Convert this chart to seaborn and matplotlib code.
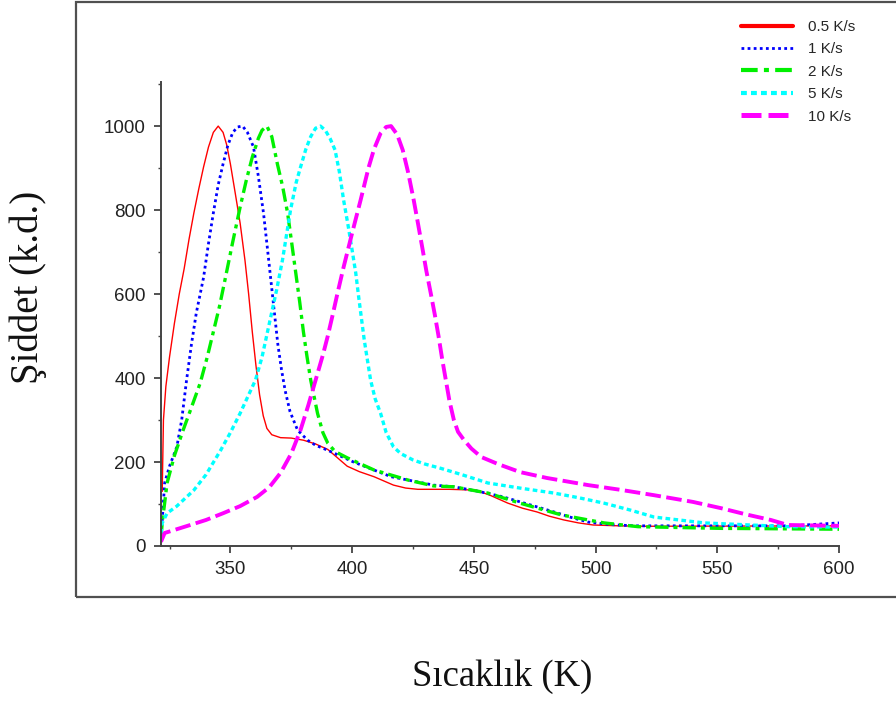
import matplotlib
matplotlib.use("Agg")
import matplotlib.pyplot as plt
from matplotlib.lines import Line2D
from matplotlib.patches import Rectangle
from matplotlib.ticker import MultipleLocator
import seaborn as sns

# values (temperature K, intensity a.u.)
t_05 = [322, 322.5, 323.5, 325, 327, 329, 331, 333, 335, 337, 339, 341, 343, 345, 347, 348.5,
        350, 352, 354, 356, 357.5, 359, 360.5, 362, 363.5, 365, 367, 370.6, 375, 380, 385, 390,
        394, 398, 403, 409, 417, 422, 427, 440, 451, 457, 464, 470, 476, 481, 487, 493, 499,
        510, 520, 600]
i_05 = [130, 300, 380, 450, 530, 600, 660, 730, 793, 850, 903, 950, 985, 1000, 985, 955,
        910, 840, 769, 680, 600, 510, 430, 360, 310, 280, 265, 258, 257, 252, 243, 230,
        210, 190, 177, 165, 145, 138, 135, 135, 133, 120, 102, 90, 81, 71, 62, 55, 50,
        48, 47, 48]

t_1 = [322, 323, 325, 328, 330, 332, 334, 336, 339, 341, 343, 345, 347, 349, 351, 353, 355,
       357, 359.5, 361.5, 363.6, 365, 366.5, 368, 369.5, 371, 372.5, 374.5, 377.6, 381.7, 385,
       390, 400.6, 416, 433.5, 441.8, 452, 462, 472, 483, 490, 497, 506, 516, 580, 600]
i_1 = [60, 150, 190, 236, 300, 395, 480, 555, 640, 720, 793, 860, 910, 955, 985, 998, 1000,
       985, 950, 880, 793, 720, 640, 560, 480, 420, 370, 320, 276, 252, 240,
       228, 200, 165, 145, 141, 130, 117, 100, 81, 68, 57, 51, 48, 48, 55]

t_2 = [321.5, 322, 324, 327, 330.6, 334, 337.6, 340.5, 343, 345.5, 348, 351, 354, 356.5, 359,
       361.5, 363, 365, 367, 369.3, 371.5, 373.5, 375, 376.7, 378.5, 380, 381.5, 383, 385.8,
       388, 390, 393, 398, 409, 423, 433.5, 441.8, 455.8, 469, 486, 503.5, 517.5, 551.6, 600]
i_2 = [20, 55, 150, 215, 276, 330, 388, 450, 510, 570, 640, 725, 807, 870, 926,
       971, 990, 1000, 975, 910, 855, 793, 730, 657, 580, 510, 450, 395, 316,
       270, 245, 225, 210, 181, 157, 143, 141, 126, 102, 74, 55, 46, 42, 40]

t_5 = [321.5, 322, 324, 328, 335, 340, 346, 350, 354, 357.5, 360.3, 363, 366, 369, 371.4, 374.7,
       377, 378.8, 381, 383, 385, 387, 389, 391, 393, 394.8, 396.5, 398.3, 400, 401.5, 402.7,
       405, 407.6, 409.5, 411.7, 414, 417, 420, 425, 430, 436.4, 445, 455.8, 470, 483, 493,
       503.5, 514, 524, 544.6, 579, 600]
i_5 = [30, 55, 78, 95, 133, 170, 228, 270, 316, 360, 395, 450, 530, 610, 681, 800,
       865, 902, 945, 975, 995, 1000, 990, 970, 943, 890, 824, 765, 705, 650, 593,
       490, 395, 350, 316, 270, 236, 220, 205, 195, 185, 170, 150, 137, 126, 115,
       102, 86, 69, 55, 46, 45]

t_10 = [321.5, 323, 328, 333.5, 340, 347, 354, 361, 366, 370.6, 375, 378.8, 382, 385, 388, 390,
        392, 394, 396.5, 400, 403.5, 406.8, 409, 411.7, 414, 416, 418.5, 420.8, 423, 425.3, 427,
        429, 430.5, 432.3, 434, 435.5, 437, 438.5, 440, 441.8, 443.5, 446, 449, 453, 460, 469,
        480, 497, 510, 524, 540, 551.6, 562, 572, 579, 600]
i_10 = [10, 31, 40, 50, 62, 78, 95, 117, 140, 174, 220, 276, 335, 395, 455, 500,
        550, 602, 664, 745, 824, 902, 945, 983, 998, 1000, 980, 943, 890, 824, 770,
        705, 655, 602, 550, 500, 445, 395, 345, 300, 272, 252, 232, 212, 195, 176,
        162, 145, 134, 121, 105, 90, 75, 62, 50, 48]

labels = ["0.5 K/s", "1 K/s", "2 K/s", "5 K/s", "10 K/s"]
series = [(t_05, i_05), (t_1, i_1), (t_2, i_2), (t_5, i_5), (t_10, i_10)]
colors = ["#ff0000", "#0000ff", "#00f000", "#00ffff", "#ff00ff"]
styles = ["-", (0, (1, 1.2)), (0, (4, 1.5, 1.2, 1.5)), (0, (1.4, 1)), (0, (4, 1.4))]
widths = [1.0, 2.0, 2.4, 2.4, 2.8]
leg_widths = [3.0, 2.0, 3.0, 3.0, 3.6]

sns.set_style("ticks")
plt.rcParams["font.family"] = ["Liberation Sans", "DejaVu Sans"]

fig = plt.figure(figsize=(8.96, 7.04), dpi=100)
ax = fig.add_axes([161 / 896, 1 - 546 / 704, (839 - 161) / 896, (546 - 82) / 704])

for (tt, ii), c, ls, lw in zip(series, colors, styles, widths):
    sns.lineplot(x=tt, y=ii, ax=ax, color=c, linestyle=ls, linewidth=lw,
                 estimator=None, sort=False)

ax.set_xlim(321.5, 600)
ax.set_ylim(0, 1105)
ax.xaxis.set_major_locator(MultipleLocator(50))
ax.xaxis.set_minor_locator(MultipleLocator(25))
ax.yaxis.set_major_locator(MultipleLocator(200))
ax.yaxis.set_minor_locator(MultipleLocator(100))
ax.set_xlabel("")
ax.set_ylabel("")
sns.despine(ax=ax)
for sp in ["left", "bottom"]:
    ax.spines[sp].set_color("#444444")
    ax.spines[sp].set_linewidth(1.4)
ax.tick_params(which="major", direction="out", length=5, width=1.3, color="#444444",
               labelsize=13.5, labelcolor="#222222", pad=6)
ax.tick_params(which="minor", direction="out", length=2.5, width=1.0, color="#444444")

# outer frame around the plot area
fig.add_artist(Rectangle((76 / 896, 1 - 597 / 704), 1.0, (597 - 2) / 704,
                         transform=fig.transFigure, fill=False,
                         edgecolor="#505050", linewidth=1.6, clip_on=False))

handles = [Line2D([0], [0], color=c, linestyle=ls, linewidth=lw)
           for c, ls, lw in zip(colors, styles, leg_widths)]
fig.legend(handles, labels, loc="upper left", bbox_to_anchor=(741 / 896, 1 - 20 / 704),
           frameon=False, fontsize=11, handlelength=3.4, handletextpad=1.0,
           labelspacing=0.55, borderpad=0, borderaxespad=0)

serif = ["Liberation Serif", "DejaVu Serif"]
fig.text(0.032, 1 - 287 / 704, "Şiddet (k.d.)", rotation=90, ha="center", va="center",
         fontsize=28, family=serif, color="#111111")
fig.text(502 / 896, 1 - 677 / 704, "Sıcaklık (K)", ha="center", va="center",
         fontsize=26.5, family=serif, color="#111111")

fig.savefig("out.png", dpi=100, facecolor="white")
